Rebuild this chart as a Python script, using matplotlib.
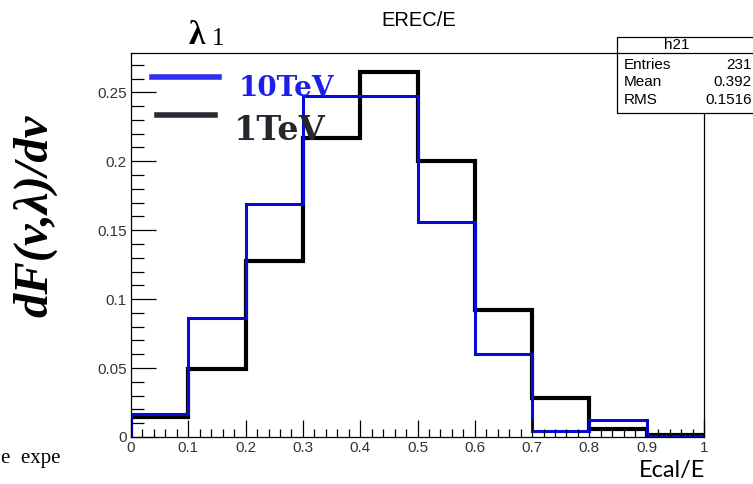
import numpy as np
import matplotlib.pyplot as plt
from matplotlib.patches import Rectangle

# bin edges and contents of the two histograms
edges = np.round(np.arange(0, 1.01, 0.1), 2)
h_10tev = [0.0165, 0.086, 0.169, 0.247, 0.247, 0.156, 0.060, 0.0043, 0.012, 0.001]
h_1tev = [0.0145, 0.049, 0.128, 0.2165, 0.265, 0.200, 0.092, 0.028, 0.006, 0.0015]

x_ticks = [0, 0.1, 0.2, 0.3, 0.4, 0.5, 0.6, 0.7, 0.8, 0.9, 1]
x_ticklabels = ["0", "0.1", "0.2", "0.3", "0.4", "0.5", "0.6", "0.7", "0.8", "0.9", "1"]
y_ticks = [0, 0.05, 0.1, 0.15, 0.2, 0.25]
y_ticklabels = ["0", "0.05", "0.1", "0.15", "0.2", "0.25"]

stat_names = ["Entries", "Mean", "RMS"]
stat_values = ["231", "0.392", "0.1516"]

W, H = 753, 484
fig = plt.figure(figsize=(W / 100, H / 100), dpi=100)
ax = fig.add_axes([131 / W, 1 - 437 / H, (704 - 131) / W, (437 - 53) / H])

ax.stairs(h_1tev, edges, baseline=0, color="black", linewidth=3.0)
ax.stairs(h_10tev, edges, baseline=0, color="#0a0ad8", linewidth=2.2)

ax.set_xlim(0, 1)
ax.set_ylim(0, 0.2785)

sans = "Liberation Sans"
ax.set_xticks(x_ticks)
ax.set_xticklabels(x_ticklabels, fontfamily=sans, fontsize=11, color="#333333")
ax.set_yticks(y_ticks)
ax.set_yticklabels(y_ticklabels, fontfamily=sans, fontsize=11, color="#333333")
ax.set_xticks(np.arange(0, 1.001, 0.02), minor=True)
ax.set_yticks(np.arange(0, 0.275, 0.01), minor=True)
ax.tick_params(axis="y", which="major", direction="in", length=18, width=0.9, pad=3)
ax.tick_params(axis="y", which="minor", direction="in", length=9, width=0.9)
ax.tick_params(axis="x", which="major", direction="in", length=12, width=0.9, pad=3)
ax.tick_params(axis="x", which="minor", direction="in", length=6, width=0.9)

# top and right frame lines stop at the stat box
ax.spines["top"].set_visible(False)
ax.spines["right"].set_visible(False)
for s in ["left", "bottom"]:
    ax.spines[s].set_linewidth(0.9)
ax.plot([0, 0.848], [1, 1], transform=ax.transAxes, color="black", lw=0.9, clip_on=False)
ax.plot([1, 1], [0, 0.845], transform=ax.transAxes, color="black", lw=0.9, clip_on=False)

# stat box
box = Rectangle((617 / W, 1 - 112.7 / H), 150 / W, 76 / H, transform=fig.transFigure,
                facecolor="white", edgecolor="black", lw=0.9, clip_on=False)
fig.patches.append(box)
fig.add_artist(plt.Line2D([617 / W, 1], [1 - 52.5 / H] * 2, transform=fig.transFigure,
                          color="black", lw=0.9))
fig.text(677 / W, 1 - 45 / H, "h21", ha="center", va="center", fontfamily=sans, fontsize=11)
for i, (name, val) in enumerate(zip(stat_names, stat_values)):
    y = 1 - (65 + 17.5 * i) / H
    fig.text(624 / W, y, name, ha="left", va="center", fontfamily=sans, fontsize=11)
    fig.text(752 / W, y, val, ha="right", va="center", fontfamily=sans, fontsize=11)

fig.text(419 / W, 1 - 21 / H, "EREC/E", ha="center", va="center", fontfamily=sans, fontsize=14.5)

# legend drawn by hand
serif = "Liberation Serif"
fig.add_artist(plt.Line2D([152 / W, 219 / W], [1 - 77 / H] * 2, transform=fig.transFigure,
                          color="#3030ee", lw=4))
fig.add_artist(plt.Line2D([157 / W, 215 / W], [1 - 115 / H] * 2, transform=fig.transFigure,
                          color="#2a2a35", lw=4))
fig.text(239 / W, 1 - 88 / H, "10TeV", ha="left", va="center", fontfamily="DejaVu Serif",
         fontweight="bold", fontsize=20, color="#1e1ee8")
fig.text(234 / W, 1 - 130 / H, "1TeV", ha="left", va="center", fontfamily="DejaVu Serif",
         fontweight="bold", fontsize=24, color="#26262f")

fig.text(189 / W, 1 - 35 / H, "λ", ha="left", va="center", fontfamily=serif,
         fontweight="bold", fontsize=24)
fig.text(212 / W, 1 - 39 / H, "1", ha="left", va="center", fontfamily=serif, fontsize=18)

fig.text(35 / W, 1 - 216 / H, "dF(v,λ)/dv", ha="center", va="center", rotation=90,
         fontfamily=serif, fontweight="bold", fontstyle="italic", fontsize=35)

fig.text(705 / W, 1 - 471 / H, "Ecal/E", ha="right", va="center", fontfamily="Lato", fontsize=17)
fig.text(1 / W, 1 - 459 / H, "e  expe", ha="left", va="center", fontfamily=serif, fontsize=15)

fig.savefig("out.png", dpi=100)
